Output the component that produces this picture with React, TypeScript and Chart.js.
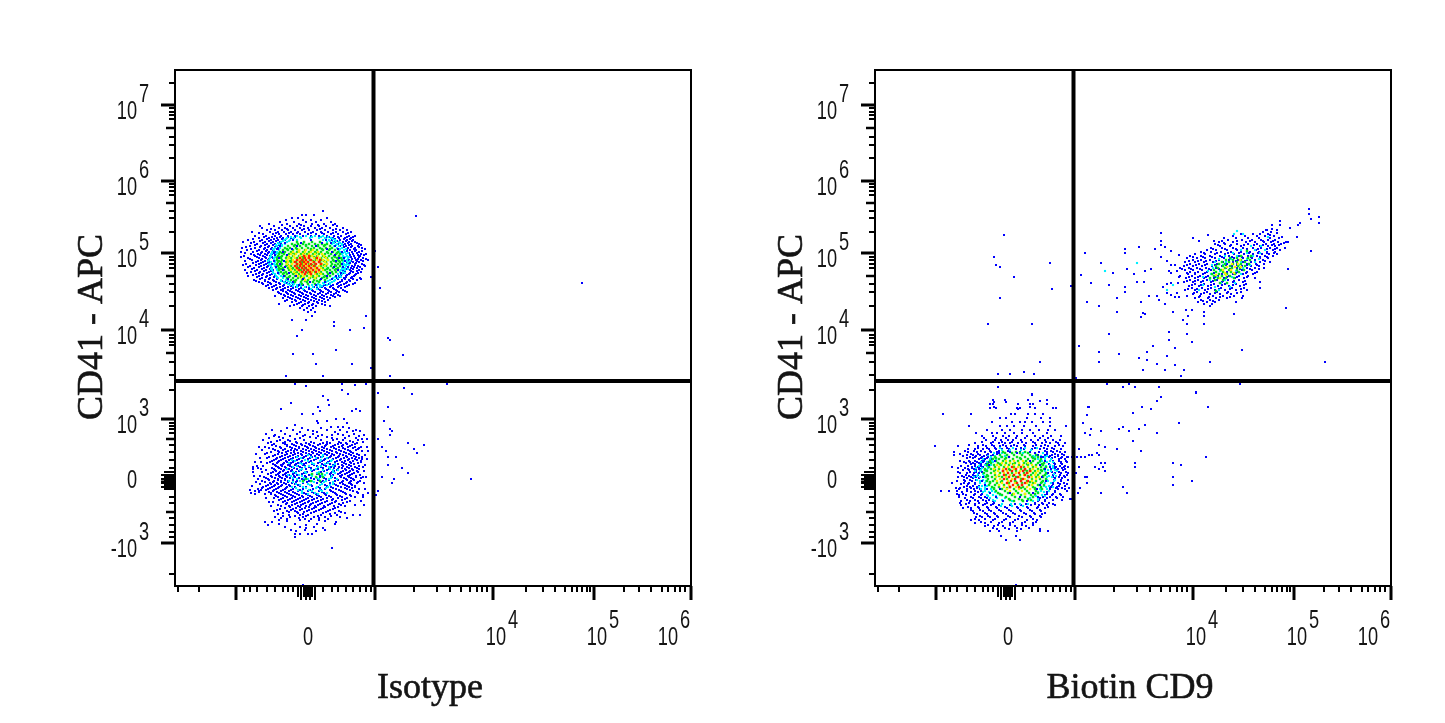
import React, { useEffect, useRef } from "react";
import Chart from "chart.js/auto";

// axis values are display channels of the biexponential scale (0-516 on both axes)
const yDecadeTicks = [481, 405, 333, 256, 167, 104, 43];
const yDecadeBases = ["10", "10", "10", "10", "10", "0", "-10"];
const yDecadeExps = ["7", "6", "5", "4", "3", "", "3"];
const yZeroTicks = [114, 111, 109, 107, 105, 103, 101, 99, 97];
const yMidTicks = [458, 383, 310, 233, 147, 74];
const yMinorTicks = [503, 478, 474, 471, 467, 449, 441, 428, 402, 399, 395, 391, 375, 368, 354, 329, 326, 322, 318, 302, 294, 280, 251, 248, 244, 241, 224, 211, 196, 163, 160, 157, 153, 141, 134, 126, 118, 89, 83, 68, 61, 54, 49, 12];
const xDecadeTicks = [61, 200, 318, 419, 516];
const xZeroTicks = [123, 126, 129, 131, 133, 135, 137, 140];
const xMinorTicks = [3, 24, 69, 75, 82, 92, 100, 108, 113, 118, 148, 157, 163, 171, 178, 185, 191, 196, 239, 262, 275, 286, 295, 302, 307, 312, 351, 368, 380, 390, 397, 402, 407, 412, 415, 449, 464, 476, 487, 493, 500, 505, 510];
const xLabelAt = [138, 331, 432, 503];
const xLabelBases = ["0", "10", "10", "10"];
const xLabelExps = ["", "4", "5", "6"];
const gateX = 198.5;
const gateY = 205;

const levelColors = ["#0000ff", "#00f0ff", "#00e020", "#f8f000", "#ff2000"];
const levelRadius = [1.45, 1.5, 1.7, 1.7, 1.7];

// cloud rows are [y, x, x, x...]
const isoUpperBlue = [
  [375, 148], [371, 127, 131, 139], [368, 117, 123, 152], [366, 111, 128, 136, 146], [364, 105, 119, 131, 141, 156], [362, 94, 112, 124, 137, 149, 160],
  [360, 85, 99, 115, 122, 129, 136, 144, 151, 162], [358, 87, 104, 110, 118, 125, 133, 140, 147, 155, 168], [356, 92, 100, 107, 113, 120, 127, 134, 142, 150, 158, 165, 172],
  [354, 77, 95, 103, 109, 116, 123, 130, 138, 146, 153, 161, 168, 176], [352, 88, 98, 104, 111, 118, 125, 133, 141, 149, 156, 163, 171], [350, 80, 91, 100, 106, 113, 120, 128, 136, 144, 152, 159, 166, 174, 180],
  [348, 84, 94, 102, 108, 116, 151, 158, 164, 170, 176], [346, 73, 87, 96, 103, 110, 157, 165, 172, 178], [344, 68, 79, 90, 98, 105, 160, 168, 174, 180], [342, 82, 92, 100, 106, 163, 170, 176, 184],
  [340, 75, 86, 94, 101, 165, 171, 177, 183], [338, 67, 80, 90, 97, 103, 167, 173, 180, 187], [336, 72, 84, 92, 99, 169, 175, 181], [334, 66, 78, 87, 94, 100, 170, 177, 184],
  [332, 76, 83, 90, 97, 171, 178, 186, 191], [330, 69, 80, 88, 95, 172, 179, 185], [328, 73, 84, 91, 98, 173, 180, 188], [326, 77, 86, 93, 174, 181, 186, 193], [324, 81, 88, 95, 172, 178, 184],
  [322, 71, 84, 91, 97, 173, 180, 187], [320, 75, 86, 93, 171, 177, 183, 190], [318, 79, 89, 96, 170, 176, 182], [316, 70, 82, 91, 98, 168, 175, 184], [314, 76, 85, 94, 169, 178, 186],
  [312, 81, 88, 97, 166, 174, 181], [310, 73, 84, 92, 100, 164, 171, 179], [308, 87, 95, 103, 162, 169, 176, 185], [306, 79, 90, 98, 106, 160, 167, 174, 182], [304, 84, 93, 101, 110, 157, 165, 172],
  [302, 88, 96, 105, 114, 154, 162, 169, 178], [300, 91, 99, 108, 116, 123, 148, 156, 164, 172], [298, 94, 102, 110, 118, 126, 134, 142, 150, 158, 166], [296, 98, 106, 113, 121, 129, 137, 145, 153, 161, 168],
  [294, 103, 111, 117, 125, 132, 140, 148, 156, 164, 172], [292, 106, 113, 120, 128, 136, 143, 151, 159], [290, 100, 110, 118, 126, 133, 141, 149, 158, 165], [288, 108, 115, 123, 131, 139, 147, 155],
  [286, 112, 120, 128, 136, 144, 153], [284, 117, 126, 134, 142, 150], [282, 104, 122, 130, 138, 147], [280, 115, 127, 134, 141, 155], [278, 125, 132, 138], [276, 129, 136], [274, 133, 140], [270, 137], [266, 131],
];
const isoUpperBlueFill = [
  [361, 107, 126, 143, 158], [357, 96, 112, 129, 145, 161], [353, 84, 101, 114, 122, 136, 147, 158, 173], [349, 89, 97, 105, 113, 120, 154, 163, 172, 178], [347, 78, 92, 99, 107, 160, 169, 175], [345, 85, 94, 101, 108, 162, 171, 177],
  [343, 76, 88, 96, 103, 165, 173, 182], [341, 80, 90, 98, 104, 168, 174, 186], [339, 71, 85, 93, 100, 169, 176, 184], [337, 76, 89, 96, 102, 172, 179, 190], [335, 82, 91, 98, 172, 180, 187], [333, 70, 86, 93, 99, 174, 182],
  [331, 79, 85, 92, 175, 183, 189], [329, 66, 82, 90, 97, 176, 184], [327, 75, 87, 94, 177, 183, 191], [325, 70, 83, 90, 176, 182, 188], [323, 78, 86, 93, 175, 181], [321, 68, 81, 89, 96, 174, 180, 189], [319, 73, 84, 92, 173, 179, 185],
  [317, 77, 87, 95, 171, 178, 187], [315, 80, 89, 96, 170, 176, 182], [313, 72, 84, 92, 168, 175, 183], [311, 78, 87, 95, 166, 172, 180], [309, 82, 91, 99, 165, 171, 177], [307, 85, 94, 102, 163, 170, 178, 186], [305, 81, 90, 99, 107, 159, 167, 175],
  [303, 87, 95, 104, 112, 155, 163, 171, 180], [301, 93, 101, 109, 118, 128, 150, 158, 166, 174], [299, 97, 105, 113, 121, 131, 139, 147, 155, 163, 170], [297, 101, 108, 116, 124, 134, 143, 151, 159], [295, 108, 115, 123, 130, 138, 146, 154, 162, 170],
  [293, 104, 112, 119, 127, 135, 145, 153, 161], [291, 109, 116, 124, 131, 139, 147, 156, 163], [289, 113, 121, 129, 137, 145, 152, 160], [287, 117, 125, 133, 141, 149], [285, 110, 121, 130, 139, 147], [283, 124, 133, 143], [281, 119, 128, 137, 150],
];
const isoUpperCyan = [
  [350, 122, 131, 140, 148], [348, 112, 119, 126, 135, 144, 150, 156], [346, 109, 115, 122, 148, 154, 160], [344, 106, 112, 152, 158, 164], [342, 104, 110, 157, 162, 167], [340, 102, 107, 159, 164],
  [338, 100, 105, 162, 167], [336, 99, 104, 164, 169], [334, 97, 102, 165, 170], [332, 96, 101, 167, 171], [330, 96, 100, 168, 172], [328, 95, 99, 168, 173], [326, 94, 99, 169, 172], [324, 96, 100, 168, 173],
  [322, 94, 99, 169, 172], [320, 96, 100, 168, 171], [318, 97, 101, 167, 170], [316, 97, 102, 166, 170], [314, 98, 103, 165, 168], [312, 100, 104, 163, 167], [310, 101, 106, 161, 165], [308, 103, 108, 158, 163],
  [306, 106, 111, 155, 160], [304, 109, 115, 151, 157], [302, 113, 119, 125, 143, 149, 155], [300, 118, 126, 134, 142, 147],
  [349, 116, 125, 137, 146, 153], [347, 111, 118, 151, 158], [345, 108, 114, 155, 161], [343, 103, 110, 159, 165], [341, 101, 107, 161, 167], [337, 98, 104, 165, 171], [333, 97, 103, 168, 173], [329, 95, 101, 170, 174], [325, 93, 100, 171, 175],
  [321, 95, 101, 170, 174], [317, 96, 102, 168, 173], [313, 98, 104, 166, 170], [309, 102, 108, 160, 166], [305, 106, 113, 153, 159], [303, 110, 117, 148, 155], [301, 115, 122, 137, 145, 152], [299, 122, 130, 138, 145], [297, 128, 136, 142],
];
const isoUpperGreen = [
  [344, 122, 129, 137, 145], [342, 117, 123, 128, 134, 140, 147, 152], [340, 113, 119, 125, 131, 137, 143, 149, 155], [338, 110, 115, 121, 127, 133, 139, 145, 151, 157], [336, 108, 113, 118, 124, 130, 136, 142, 148, 154, 160],
  [334, 105, 110, 116, 122, 128, 134, 140, 146, 152, 158, 163], [332, 104, 109, 114, 120, 126, 132, 138, 144, 150, 156, 161, 165], [330, 103, 107, 112, 118, 124, 130, 136, 142, 148, 154, 159, 164],
  [328, 102, 106, 111, 116, 122, 128, 134, 140, 146, 152, 157, 162, 166], [326, 102, 107, 112, 117, 123, 129, 135, 141, 147, 153, 158, 163, 167], [324, 103, 106, 111, 116, 121, 127, 133, 139, 145, 151, 156, 161, 165],
  [322, 102, 107, 112, 117, 122, 128, 134, 140, 146, 152, 157, 163, 166], [320, 103, 106, 111, 116, 122, 128, 134, 140, 146, 151, 156, 161, 165], [318, 104, 108, 113, 118, 124, 130, 136, 142, 148, 153, 158, 163],
  [316, 104, 109, 114, 120, 126, 132, 138, 144, 150, 155, 160, 163], [314, 106, 111, 116, 122, 128, 134, 140, 146, 152, 157, 161], [312, 108, 112, 118, 124, 130, 136, 142, 148, 153, 158], [310, 110, 115, 120, 126, 132, 138, 144, 150, 155],
  [308, 112, 118, 123, 129, 135, 141, 147, 152], [306, 116, 121, 127, 133, 139, 145, 150], [304, 120, 126, 132, 138, 144], [302, 127, 133, 140],
  [341, 120, 131, 143, 150], [337, 112, 122, 136, 147, 155], [333, 107, 118, 129, 141, 153, 162], [329, 105, 114, 127, 139, 150, 160], [325, 104, 115, 126, 138, 149, 159, 164], [321, 105, 113, 125, 137, 149, 160], [317, 106, 117, 129, 141, 152, 161], [313, 109, 120, 133, 145, 155], [309, 114, 126, 138, 149], [305, 119, 130, 142],
];
const isoUpperYellow = [
  [336, 124, 131, 138], [334, 118, 124, 130, 136, 143], [332, 116, 121, 128, 134, 140, 147], [330, 113, 119, 125, 131, 137, 143, 149], [328, 114, 120, 126, 133, 139, 145, 151], [326, 112, 118, 124, 130, 136, 142, 148, 153],
  [324, 113, 119, 125, 131, 138, 144, 150], [322, 112, 117, 123, 129, 135, 141, 147, 152], [320, 114, 120, 126, 132, 138, 144, 150], [318, 115, 121, 127, 134, 140, 146], [316, 116, 122, 129, 135, 141, 148], [314, 119, 125, 131, 137, 144],
  [312, 121, 127, 134, 140, 146], [310, 123, 129, 136, 142], [308, 127, 134, 140], [306, 130],
];
const isoUpperRed = [
  [330, 129, 134], [328, 125, 130, 134, 142], [326, 122, 127, 131, 136, 145], [324, 120, 125, 129, 133, 139, 144], [322, 122, 126, 131, 136, 141, 146], [320, 120, 125, 129, 134, 139],
  [318, 122, 127, 131, 136, 142], [316, 124, 129, 133, 138, 144], [314, 127, 131, 135, 141], [312, 130, 136],
];
const isoUpperSpeckle = [
  [346, 118, 136, 151], [343, 110, 126, 147, 156], [340, 105, 122, 141, 160], [337, 103, 117, 152, 163], [334, 108, 157, 167], [331, 100, 112, 160], [328, 104, 164, 169], [325, 99, 109, 161, 170], [322, 105, 167], [319, 101, 110, 159, 168],
  [316, 108, 163], [313, 103, 114, 155, 166], [310, 109, 121, 152, 161], [307, 113, 128, 146, 157], [304, 118, 135, 150], [301, 124, 141],
];
const isoLowerBlue = [
  [167, 161, 169], [165, 142, 152], [163, 143, 172], [159, 156, 163, 168], [155, 106, 138, 178, 185], [151, 100, 130, 147, 157, 168, 189], [149, 104, 135, 152], [147, 120, 162, 187, 192], [145, 102, 115, 175],
  [143, 93, 108, 122, 131, 139, 148, 155, 166, 171, 182], [141, 97, 112, 119, 127, 135, 143, 151, 160, 168, 177], [139, 105, 115, 124, 132, 140, 147, 156, 164, 173, 180, 186], [137, 98, 110, 120, 128, 136, 144, 152, 161, 170, 183],
  [135, 103, 113, 119, 126, 134, 141, 149, 157, 166, 175, 187], [133, 92, 107, 116, 123, 131, 138, 146, 154, 162, 171, 178], [131, 100, 110, 118, 127, 136, 144, 152, 159, 168, 176, 184], [129, 94, 105, 113, 121, 129, 137, 146, 155, 163, 172, 181, 187],
  [127, 101, 108, 116, 124, 133, 141, 150, 158, 166, 174, 180], [125, 97, 104, 111, 119, 127, 136, 147, 155, 162, 170, 178, 186], [123, 92, 102, 109, 116, 123, 131, 143, 152, 160, 169, 176, 183], [121, 100, 106, 113, 120, 128, 139, 149, 158, 167, 174],
  [119, 78, 103, 110, 117, 125, 134, 146, 156, 164, 172, 180, 188], [117, 78, 86, 99, 106, 114, 122, 131, 143, 154, 163, 170, 177, 184], [115, 101, 108, 116, 124, 137, 149, 159, 168, 175, 182], [113, 96, 104, 111, 119, 129, 144, 156, 165, 172, 179],
  [111, 101, 108, 114, 122, 134, 147, 158, 167, 175, 185], [109, 89, 97, 105, 112, 120, 131, 145, 157, 166, 174, 181, 188], [107, 83, 93, 103, 110, 118, 127, 139, 151, 162, 171, 178], [105, 87, 99, 106, 113, 122, 134, 148, 160, 168, 176, 185],
  [103, 95, 102, 109, 117, 128, 142, 155, 165, 174, 182], [101, 93, 100, 107, 114, 123, 136, 150, 161, 170, 177], [99, 88, 97, 104, 112, 120, 131, 143, 156, 166, 174, 180], [97, 83, 93, 101, 110, 118, 128, 138, 150, 161, 172, 184],
  [95, 80, 84, 98, 106, 114, 123, 133, 144, 156, 166, 178], [93, 76, 96, 104, 112, 120, 129, 139, 149, 160, 170], [91, 100, 108, 116, 124, 133, 142, 151, 162, 175, 188], [89, 103, 112, 120, 128, 137, 146, 156, 167, 180], [87, 106, 115, 123, 131, 139, 148, 158, 170],
  [85, 110, 119, 127, 134, 143, 152, 161], [83, 112, 122, 130, 138, 147, 157, 168], [81, 103, 117, 126, 135, 143, 153, 166, 180, 189], [79, 115, 125, 134, 141, 150, 163], [77, 105, 118, 127, 137, 146, 158], [75, 99, 112, 120, 132, 141, 153, 164],
  [73, 108, 123, 136, 148, 160, 170], [71, 114, 125, 133, 146, 162, 178, 185], [69, 100, 115, 128, 139, 150, 165], [67, 112, 130, 136, 153], [64, 90, 97, 161], [61, 93, 131], [58, 131, 148], [55, 121, 141], [52, 120, 125, 137, 133], [49, 120],
];
const isoLowerBlueFill = [
  [142, 99, 110, 117, 126, 134, 145, 152, 163, 172, 180], [140, 101, 112, 121, 130, 138, 150, 158, 167, 175], [138, 94, 106, 117, 124, 133, 141, 149, 159, 168, 178, 184], [136, 100, 108, 116, 122, 131, 139, 147, 155, 164, 173, 181],
  [134, 96, 104, 111, 119, 128, 137, 144, 152, 161, 169, 176], [132, 90, 103, 112, 120, 126, 134, 142, 150, 157, 165, 174, 182], [130, 98, 107, 115, 123, 131, 140, 148, 156, 164, 171, 179], [128, 92, 102, 110, 118, 128, 135, 143, 153, 161, 169, 177, 184],
  [126, 99, 106, 114, 122, 130, 139, 149, 157, 165, 173, 182], [124, 95, 103, 112, 118, 126, 134, 145, 153, 160, 167, 175, 186], [122, 98, 108, 115, 121, 129, 137, 147, 155, 163, 171, 179], [120, 88, 101, 107, 115, 123, 130, 142, 151, 160, 168, 176, 184],
  [118, 83, 97, 104, 111, 119, 127, 136, 148, 159, 167, 174, 182], [116, 91, 100, 109, 117, 126, 139, 152, 162, 171, 178], [114, 87, 98, 105, 113, 121, 132, 146, 157, 166, 174, 183], [112, 93, 103, 110, 118, 127, 142, 155, 163, 170, 177],
  [110, 85, 96, 104, 111, 119, 130, 145, 156, 165, 173, 181], [108, 91, 100, 107, 115, 124, 136, 149, 160, 169, 176, 186], [106, 94, 103, 110, 118, 129, 143, 154, 163, 172, 179], [104, 90, 98, 106, 113, 121, 132, 146, 158, 167, 175, 183],
  [102, 85, 96, 103, 111, 120, 133, 147, 159, 168, 176], [100, 91, 99, 106, 115, 125, 137, 152, 163, 172, 180], [98, 87, 95, 103, 111, 121, 131, 145, 158, 170, 177], [96, 91, 99, 108, 116, 125, 135, 146, 155, 164, 175],
  [94, 84, 94, 102, 110, 118, 127, 137, 147, 158, 168, 182], [92, 96, 106, 114, 122, 131, 141, 150, 161, 171], [90, 101, 110, 118, 127, 135, 144, 154, 165, 176], [88, 99, 108, 117, 125, 133, 142, 152, 163, 172], [86, 104, 113, 121, 129, 137, 146, 157, 167],
  [84, 108, 117, 125, 133, 141, 150, 160, 172], [82, 111, 120, 128, 136, 145, 155, 164], [80, 106, 114, 123, 131, 140, 149, 159, 170], [78, 110, 121, 130, 139, 148, 160], [76, 102, 116, 125, 134, 144, 155], [74, 114, 122, 129, 139, 151, 166], [70, 108, 120, 131, 143, 156], [66, 104, 125, 144],
];
const isoLowerBlueEdge = [
  [158, 112, 127, 146, 174], [156, 97, 118, 133, 152, 165, 181], [154, 125, 142, 160, 172], [152, 91, 110, 122, 138, 163, 179], [150, 99, 115, 128, 143, 174, 184], [148, 94, 108, 125, 141, 157, 170, 181], [146, 88, 105, 113, 129, 146, 158, 168, 183], [144, 96, 110, 121, 136, 152, 164, 178, 188],
  [139, 84, 90, 192], [136, 87], [135, 193], [132, 81], [131, 190], [128, 85], [127, 187, 192], [124, 80, 86], [121, 190], [120, 82], [115, 189], [114, 78], [110, 79], [109, 191], [104, 81], [103, 189], [100, 77], [97, 190], [96, 75, 86], [93, 183, 193], [92, 80, 90], [89, 188], [88, 91], [85, 175, 186], [84, 94, 98], [80, 96],
  [72, 103, 128, 155], [68, 106, 124, 144, 172], [65, 112, 134, 150], [62, 104, 120, 142, 160], [59, 110, 125, 139], [56, 116, 130, 150],
];
const isoLowerCyan = [
  [131, 133, 148], [128, 126, 141, 152], [125, 120, 133, 145, 156], [122, 127, 139, 150, 160], [119, 118, 130, 143, 154], [116, 125, 136, 148, 158, 163], [113, 121, 131, 142, 152, 160], [110, 116, 127, 137, 147, 157],
  [107, 122, 133, 144, 154, 162], [104, 118, 128, 139, 149, 158], [101, 125, 135, 145, 155], [98, 121, 131, 141, 151], [95, 127, 137, 147], [92, 133, 143],
  [129, 122, 136, 147], [126, 117, 130, 146, 157], [123, 114, 125, 137, 153], [120, 122, 134, 146, 158], [117, 112, 127, 141, 155], [114, 118, 130, 144, 158], [111, 113, 124, 136, 150], [108, 118, 129, 142, 156], [105, 114, 125, 137, 151], [102, 121, 133, 147, 158], [99, 117, 128, 142, 153], [96, 123, 134, 145], [93, 127, 140, 152],
];
const isoLowerGreen = [[112, 137, 144, 147], [109, 141, 148], [107, 131], [105, 128, 136, 145]];
const isoStrays = [
  241, 370, 407, 303, 228, 231, 200, 335, 203, 319, 196, 309, 205, 298, 191, 270, 189, 258, 213, 248, 215, 246, 175, 256, 159, 264, 159, 260, 127, 256, 122, 250, 117, 266, 118, 232, 138, 232, 161, 236, 141, 222, 177, 222, 196, 218, 111, 210, 148, 210, 215, 210,
  120, 202, 131, 200, 167, 202, 180, 201, 191, 202, 272, 202, 167, 196, 173, 192, 203, 193, 229, 198, 237, 192, 148, 190, 153, 186, 154, 181, 116, 183, 106, 177, 143, 179, 145, 175, 213, 179, 181, 177, 177, 175, 185, 175, 127, 172, 138, 172,
  209, 165, 120, 161, 215, 157, 217, 155, 215, 151, 203, 147, 233, 143, 249, 141, 239, 137, 242, 133, 207, 139, 211, 135, 213, 129, 221, 129, 213, 121, 227, 118, 233, 113, 207, 109, 219, 107, 217, 103, 203, 95, 201, 91, 296, 107, 157, 38, 128, 1,
];

const cd9LowerBlue = [
  [191, 157], [186, 118, 130, 153, 172], [182, 118, 115, 143, 155, 158, 172], [178, 121, 115, 142, 145, 160, 178, 181], [172, 68, 96, 136, 140, 153, 160, 168], [168, 125, 131, 152, 166, 175], [164, 117, 137, 145, 150, 157, 168, 175],
  [160, 94, 125, 132, 139, 149, 161, 175, 191], [156, 112, 127, 135, 147, 155, 164, 173, 180], [153, 101, 117, 122, 130, 139, 147, 158, 172], [150, 107, 118, 128, 134, 142, 152, 160, 168, 176, 186],
  [146, 111, 120, 126, 133, 138, 146, 156, 163, 170, 178, 185], [143, 100, 116, 124, 130, 135, 143, 151, 160, 167, 175, 183, 190], [140, 60, 83, 103, 111, 119, 125, 131, 136, 142, 150, 158, 166, 173, 180, 188],
  [137, 93, 100, 108, 114, 121, 127, 134, 141, 149, 157, 165, 172, 179, 186], [134, 79, 93, 102, 110, 116, 122, 128, 135, 145, 155, 164, 172, 178, 185, 190], [131, 79, 92, 98, 105, 112, 118, 125, 163, 170, 177, 183, 189], [129, 95, 100, 107, 113, 120, 168, 174, 180, 187, 192],
  [127, 104, 110, 116, 170, 176, 184, 190], [124, 89, 95, 102, 108, 114, 172, 178, 186, 192], [122, 96, 100, 106, 111, 174, 180, 187], [119, 77, 97, 103, 108, 175, 181, 189, 193], [117, 93, 99, 105, 176, 183, 190], [114, 83, 95, 101, 107, 177, 184, 191],
  [111, 91, 98, 103, 178, 185, 192], [109, 83, 89, 96, 101, 178, 184, 190], [106, 89, 95, 101, 179, 186, 193], [103, 77, 89, 94, 100, 178, 183, 189], [100, 92, 98, 104, 177, 184, 190], [98, 81, 85, 96, 102, 175, 181, 187, 194], [95, 66, 74, 82, 92, 100, 106, 174, 180, 192],
  [92, 82, 88, 100, 107, 172, 178, 185], [89, 84, 96, 104, 110, 168, 175, 181, 188], [86, 92, 100, 108, 114, 164, 170, 178, 187], [83, 85, 94, 104, 112, 119, 160, 167, 174], [81, 86, 100, 108, 116, 124, 135, 146, 156, 164, 172, 180], [78, 88, 96, 104, 113, 122, 132, 143, 153, 162, 170],
  [75, 98, 108, 116, 126, 136, 146, 157, 166], [72, 102, 112, 120, 131, 140, 151, 160, 167], [69, 101, 107, 115, 123, 135, 147, 156, 166], [66, 96, 104, 118, 129, 140, 152, 162], [63, 100, 110, 124, 135, 147, 158], [60, 110, 119, 128, 140, 151], [57, 122, 134, 146, 165], [55, 115, 124, 142, 165, 173], [50, 126, 141], [46, 131, 145], [1, 141],
];
const cd9LowerBlueFill = [
  [148, 109, 121, 131, 141, 150, 165, 173], [144, 107, 118, 127, 137, 147, 158, 171, 181], [141, 94, 108, 117, 128, 139, 149, 161, 170, 184], [138, 103, 112, 120, 132, 146, 160, 169, 177], [135, 90, 99, 106, 115, 124, 133, 170, 176, 182],
  [132, 85, 96, 103, 113, 122, 172, 180, 187], [130, 88, 101, 109, 116, 175, 183], [128, 92, 98, 106, 112, 177, 186], [125, 85, 94, 100, 107, 178, 184, 191], [123, 91, 98, 104, 179, 186], [120, 86, 93, 100, 106, 179, 185, 190], [118, 83, 90, 97, 104, 180, 187],
  [116, 88, 94, 101, 181, 188], [113, 85, 92, 99, 180, 186, 193], [110, 87, 94, 100, 181, 189], [108, 92, 98, 104, 180, 187], [105, 82, 90, 97, 179, 186], [102, 86, 93, 100, 178, 185, 192], [99, 89, 95, 102, 176, 182], [97, 84, 92, 99, 105, 175, 183, 190],
  [94, 87, 96, 103, 172, 180], [91, 84, 91, 99, 106, 170, 177, 186], [88, 90, 98, 106, 112, 165, 172, 182], [85, 86, 95, 103, 111, 118, 163, 170], [82, 91, 100, 110, 118, 127, 140, 151, 160, 168, 178], [79, 93, 103, 112, 121, 130, 142, 152, 163, 173], [76, 96, 105, 114, 124, 134, 145, 155, 165],
  [73, 99, 110, 119, 128, 138, 149, 159, 170], [70, 105, 113, 122, 133, 144, 155, 165], [67, 100, 110, 120, 131, 143, 158], [64, 106, 116, 127, 138, 150, 161], [61, 113, 123, 135, 147, 158], [58, 118, 130, 142, 154],
];
const cd9LowerCyan = [
  [136, 127, 135, 146, 156], [133, 119, 127, 137, 148, 160, 168], [130, 113, 120, 130, 158, 166, 172], [127, 108, 115, 121, 163, 170, 176], [124, 106, 112, 118, 165, 172, 178], [121, 105, 110, 116, 168, 175], [118, 101, 107, 113, 170, 178],
  [115, 100, 105, 111, 170, 176, 182], [112, 103, 108, 172, 179], [109, 99, 105, 110, 172, 177], [106, 102, 108, 172, 180], [103, 105, 110, 170, 176], [100, 107, 112, 169, 174], [97, 106, 110, 116, 165, 172], [94, 108, 114, 120, 163, 169],
  [91, 112, 118, 125, 160, 167], [88, 115, 122, 130, 155, 163], [85, 120, 128, 137, 148, 158], [82, 127, 136, 145, 153],
  [138, 125, 138, 150, 162], [129, 116, 126, 160, 170], [125, 109, 117, 167, 175], [120, 104, 112, 171, 178], [116, 106, 112, 173, 180], [110, 102, 109, 174, 181], [105, 105, 111, 173, 179], [99, 104, 110, 171, 178], [95, 110, 117, 166, 174], [90, 113, 121, 161, 170], [86, 118, 127, 153, 163], [80, 126, 137, 148],
];
const cd9LowerGreen = [
  [133, 130, 137, 145, 153], [131, 125, 132, 139, 147, 155, 161], [129, 120, 127, 134, 142, 150, 157, 163], [127, 118, 124, 130, 138, 146, 153, 160, 166], [125, 115, 121, 128, 135, 143, 151, 158, 165], [123, 116, 123, 131, 140, 149, 156, 163, 169],
  [121, 112, 119, 126, 134, 144, 153, 161, 168], [119, 114, 120, 129, 139, 149, 158, 166, 171], [117, 110, 116, 124, 134, 146, 155, 163, 169], [115, 112, 119, 128, 141, 152, 160, 167], [113, 109, 116, 125, 137, 149, 158, 165, 171], [111, 112, 120, 131, 145, 156, 163, 170],
  [109, 111, 117, 127, 141, 153, 161, 168], [107, 113, 120, 132, 146, 157, 165, 171], [105, 112, 118, 127, 140, 152, 161, 168], [103, 115, 122, 134, 147, 158, 166], [101, 114, 120, 129, 143, 154, 163, 169], [99, 117, 124, 135, 148, 158, 166], [97, 119, 127, 139, 150, 160, 167],
  [95, 121, 130, 141, 152, 161], [93, 123, 133, 143, 154, 163], [91, 127, 137, 146, 156], [89, 131, 140, 150, 158], [87, 134, 144, 153], [85, 139, 148],
  [134, 128, 141, 150], [128, 121, 131, 145, 158], [122, 113, 125, 138, 152, 167], [116, 110, 120, 135, 150, 166], [110, 113, 124, 138, 153, 168], [104, 115, 126, 141, 155, 167], [98, 119, 132, 146, 160], [92, 125, 138, 150, 160], [86, 135, 147, 156],
];
const cd9LowerYellow = [
  [125, 131, 139, 148], [123, 127, 135, 144, 153], [121, 122, 130, 139, 148, 157], [119, 124, 133, 143, 153, 161], [117, 119, 128, 139, 150, 158], [115, 123, 132, 145, 156, 163], [113, 120, 129, 141, 153, 161], [111, 124, 135, 149, 160],
  [109, 121, 131, 145, 157, 164], [107, 125, 137, 150, 161], [105, 122, 133, 146, 157], [103, 127, 140, 152, 160], [101, 124, 134, 147, 157], [99, 129, 141, 152], [97, 132, 144, 155], [95, 135, 147], [92, 139, 150],
];
const cd9LowerRed = [
  [119, 137, 146], [117, 131, 141, 150], [115, 128, 137, 148, 155], [113, 133, 144, 152], [111, 129, 139, 150], [109, 134, 143, 154], [107, 129, 140, 148], [105, 136, 146, 153], [103, 132, 142, 150], [101, 138, 147], [99, 135, 144],
];
const cd9LowerSpeckle = [
  [133, 124, 142, 160], [129, 113, 134, 166], [125, 109, 120, 155, 170], [121, 106, 114, 165], [117, 104, 170], [113, 104, 173], [109, 108, 167], [105, 107, 171], [101, 110, 165], [97, 112, 125, 162], [93, 115, 135, 158], [89, 121, 145, 163], [85, 128, 152],
];
const cd9UpperBlue = [
  [356, 392, 402], [354, 388, 396], [352, 366, 378, 385, 393], [350, 358, 370, 382, 390, 399], [348, 349, 361, 373, 384, 395, 404], [346, 353, 367, 377, 386, 393, 400], [344, 344, 358, 371, 380, 389, 396, 403, 411],
  [342, 340, 350, 362, 373, 382, 391, 399, 406], [340, 345, 355, 366, 376, 385, 393, 400], [338, 336, 347, 358, 368, 378, 386, 395, 402, 410], [336, 332, 341, 352, 362, 372, 381, 390, 398, 405], [334, 326, 336, 346, 356, 366, 375, 384, 392, 400],
  [332, 320, 330, 340, 350, 359, 369, 378, 387, 394, 402], [330, 315, 326, 335, 345, 354, 364, 373, 382, 390, 398], [328, 312, 322, 330, 340, 349, 359, 368, 377, 385, 393], [326, 318, 326, 335, 344, 354, 363, 372, 380, 388], [324, 310, 320, 329, 338, 348, 358, 368, 376, 385, 395],
  [322, 315, 324, 332, 342, 352, 362, 372, 381, 389], [320, 309, 318, 327, 337, 347, 357, 367, 376, 384], [318, 305, 314, 322, 331, 341, 351, 362, 372, 380, 389], [316, 310, 318, 327, 336, 346, 356, 367, 377], [314, 315, 323, 332, 341, 352, 363, 372, 382],
  [312, 313, 320, 328, 337, 347, 358, 368, 378], [310, 305, 317, 325, 333, 343, 354, 364, 373], [308, 311, 320, 329, 339, 349, 360, 369, 380], [306, 315, 323, 332, 342, 353, 364], [304, 309, 318, 326, 336, 347, 358, 368, 385], [302, 320, 329, 339, 350, 361, 371], [300, 314, 324, 333, 343, 354, 365],
  [298, 317, 327, 336, 346, 357, 369, 385], [296, 310, 320, 330, 340, 350, 361, 372], [294, 322, 332, 342, 353, 366], [292, 318, 326, 335, 345, 356], [290, 325, 338, 348, 359, 368], [288, 320, 333, 341, 352, 367], [286, 326, 335, 344], [284, 323, 332, 340, 361], [282, 329, 337], [280, 335],
];
const cd9UpperBlueFill = [
  [345, 347, 362, 375, 388, 398], [341, 343, 356, 369, 379, 388, 397, 404], [337, 338, 350, 361, 372, 383, 392, 400], [333, 329, 342, 353, 364, 374, 383, 392, 399], [329, 318, 328, 337, 347, 357, 367, 376, 385, 392], [325, 314, 323, 331, 341, 351, 361, 370, 380, 390],
  [321, 312, 321, 330, 340, 351, 362, 372, 382], [317, 307, 316, 325, 334, 344, 355, 365, 375, 384], [313, 312, 320, 330, 339, 350, 361, 371, 380], [309, 314, 323, 331, 341, 352, 362, 372], [305, 312, 320, 328, 338, 348, 359, 370], [301, 317, 326, 336, 347, 358, 369],
  [297, 313, 322, 333, 344, 355, 366], [293, 319, 329, 340, 352, 362], [289, 324, 334, 345, 355], [285, 328, 338],
];
const cd9UpperCyan = [
  [355, 362], [352, 359, 368], [349, 393], [340, 376, 386], [336, 366, 380, 390], [333, 358, 372, 385], [330, 350, 362, 378], [327, 344, 356, 372, 384], [324, 340, 351, 366, 380], [321, 337, 348, 364, 375], [318, 338, 350, 368], [315, 333, 345, 361],
  [312, 336, 350, 366], [309, 328, 342, 357], [306, 335, 350], [303, 346, 360], [301, 298, 328], [299, 340, 355], [296, 292, 324, 344], [315, 230], [323, 262],
];
const cd9UpperGreen = [
  [335, 372], [330, 366, 376], [328, 355, 362, 373], [326, 351, 358, 366, 375], [324, 347, 354, 362, 370], [322, 344, 350, 358, 366, 374], [320, 341, 348, 355, 363, 370], [318, 343, 350, 357, 365], [316, 339, 346, 354, 362, 369], [314, 341, 348, 356, 364],
  [312, 337, 344, 352, 360], [310, 339, 347, 355], [308, 335, 343, 351, 359], [306, 340, 348], [303, 345, 352], [295, 341],
];
const cd9UpperYellow = [[326, 365], [322, 357, 363], [319, 352, 360, 366], [316, 348, 356], [313, 350, 359], [311, 341, 351], [308, 345]];
const cd9Strays = [
  129, 351, 119, 329, 121, 321, 125, 319, 139, 309, 175, 323, 177, 297, 125, 288, 113, 262, 157, 262, 196, 300, 165, 224, 123, 212, 135, 212, 149, 214, 159, 212, 123, 199, 157, 192, 119, 184, 131, 184, 165, 185, 155, 179, 143, 177, 119, 179,
  210, 333, 206, 311, 226, 323, 238, 313, 216, 303, 234, 301, 250, 337, 250, 333, 264, 339, 252, 317, 259, 312, 270, 315, 276, 317, 262, 304, 269, 304, 250, 299, 250, 294, 242, 288, 212, 284, 224, 280, 242, 274, 266, 284, 274, 290, 268, 273, 266, 269, 270, 272,
  234, 252, 204, 240, 224, 234, 244, 232, 224, 224, 264, 228, 272, 234, 272, 226, 278, 240, 282, 222, 268, 216, 290, 216, 294, 254, 294, 246, 300, 238, 292, 230, 300, 221, 309, 216, 306, 210, 317, 244, 312, 252, 312, 262, 329, 262, 308, 266, 298, 274, 313, 270, 311, 276, 317, 276, 329, 274, 329, 270,
  335, 224, 367, 236, 359, 272, 411, 278, 450, 224, 436, 335, 413, 317, 232, 202, 254, 202, 248, 199, 260, 199, 284, 199, 365, 202, 201, 208, 321, 194, 286, 189, 282, 185, 214, 179, 267, 179, 276, 177, 333, 179,
  286, 353, 286, 345, 286, 341, 290, 339, 280, 337, 296, 335, 304, 331, 286, 329, 292, 325, 296, 321, 300, 321, 294, 315, 302, 315, 296, 313, 304, 309, 288, 299, 292, 302, 296, 303, 290, 282, 284, 286, 282, 290, 292, 293, 296, 291, 300, 289, 304, 289, 312, 290, 302, 293, 303, 303, 318, 348, 324, 345, 333, 351, 339, 345, 349, 343,
  434, 377, 434, 372, 436, 367, 444, 369, 444, 363, 425, 363, 423, 361, 405, 365, 405, 361, 415, 358, 397, 361, 397, 357, 391, 356, 422, 349, 413, 344, 409, 343, 407, 349, 402, 353, 395, 351,
  213, 179, 212, 171, 208, 163, 216, 157, 210, 153, 215, 151, 226, 155, 244, 157, 248, 159, 254, 155, 264, 157, 270, 161, 282, 153, 258, 173, 267, 179, 276, 177, 282, 185, 286, 189, 321, 193, 333, 179, 304, 163, 258, 145, 266, 135, 242, 137, 224, 141, 230, 139, 222, 133, 224, 131,
  204, 137, 202, 129, 206, 129, 210, 129, 214, 131, 217, 131, 226, 123, 230, 123, 220, 119, 224, 117, 228, 119, 230, 115, 204, 119, 201, 113, 210, 109, 212, 109, 212, 103, 205, 98, 203, 93, 226, 93, 248, 99, 252, 93, 260, 123, 260, 119, 298, 123, 306, 121, 298, 109, 298, 101, 317, 105, 331, 129, 197, 87, 195, 87, 197, 129, 193, 129,
];

const toPoints = (rows: number[][]) => rows.flatMap(([y, ...xs]) => xs.map((x) => ({ x, y })));
const pairsToPoints = (pairs: number[]) => {
  const out: { x: number; y: number }[] = [];
  for (let i = 0; i < pairs.length; i += 2) out.push({ x: pairs[i], y: pairs[i + 1] });
  return out;
};

const sciFont = '26px "Liberation Sans", sans-serif';
const sciSqueeze = 0.7;
const titleFont = '36px "Liberation Serif", serif';
const inkColor = "#141414";

// frame, biexponential ticks and superscript labels, placed through the chart scales
const axisPlugin = (xTitle: string) => ({
  id: "biexAxes",
  afterDatasetsDraw(chart: any) {
    const { ctx, chartArea, scales } = chart;
    const { x, y } = scales;
    ctx.save();
    ctx.strokeStyle = "#000";
    ctx.lineWidth = 2;
    ctx.strokeRect(chartArea.left, chartArea.top, chartArea.width, chartArea.height);

    const yTick = (v: number, len: number, w: number) => {
      const p = y.getPixelForValue(v);
      ctx.lineWidth = w;
      ctx.beginPath();
      ctx.moveTo(chartArea.left, p);
      ctx.lineTo(chartArea.left - len, p);
      ctx.stroke();
    };
    const xTick = (v: number, len: number, w: number) => {
      const p = x.getPixelForValue(v);
      ctx.lineWidth = w;
      ctx.beginPath();
      ctx.moveTo(p, chartArea.bottom);
      ctx.lineTo(p, chartArea.bottom + len);
      ctx.stroke();
    };
    yMinorTicks.forEach((v) => yTick(v, 6, 2));
    yMidTicks.forEach((v) => yTick(v, 9, 2.5));
    yDecadeTicks.forEach((v) => yTick(v, 14, 3));
    yZeroTicks.forEach((v, i) => yTick(v, i % 2 ? 14 : 11, 2));
    xMinorTicks.forEach((v) => xTick(v, 6, 2));
    xDecadeTicks.forEach((v) => xTick(v, 14, 3));
    xZeroTicks.forEach((v, i) => xTick(v, i % 2 ? 14 : 11, 2));

    ctx.fillStyle = inkColor;
    ctx.font = sciFont;
    ctx.textBaseline = "alphabetic";
    const squeezed = (text: string, px: number, py: number, align: CanvasTextAlign) => {
      ctx.save();
      ctx.translate(px, py);
      ctx.scale(sciSqueeze, 1);
      ctx.textAlign = align;
      ctx.fillText(text, 0, 0);
      ctx.restore();
    };
    yDecadeTicks.forEach((v, i) => {
      const p = y.getPixelForValue(v);
      const base = yDecadeBases[i];
      squeezed(base, chartArea.left - 38, p + (base === "0" ? 6 : 14), "right");
      if (yDecadeExps[i]) squeezed(yDecadeExps[i], chartArea.left - 36, p - 3, "left");
    });
    xLabelAt.forEach((v, i) => {
      const p = x.getPixelForValue(v);
      squeezed(xLabelBases[i], p, chartArea.bottom + 59, "right");
      if (xLabelExps[i]) squeezed(xLabelExps[i], p + 2, chartArea.bottom + 42, "left");
    });

    ctx.font = titleFont;
    ctx.textAlign = "center";
    ctx.strokeStyle = inkColor;
    ctx.lineWidth = 0.6;
    ctx.fillText(xTitle, 430, chartArea.bottom + 112);
    ctx.strokeText(xTitle, 430, chartArea.bottom + 112);
    ctx.translate(102, 327);
    ctx.rotate(-Math.PI / 2);
    ctx.fillText("CD41 - APC", 0, 0);
    ctx.strokeText("CD41 - APC", 0, 0);
    ctx.restore();
  },
});

interface DotPlotProps {
  levels: number[][][];
  speckle: number[][];
  strays: number[];
  xTitle: string;
  left: number;
}

function DotPlot({ levels, speckle, strays, xTitle, left }: DotPlotProps) {
  const canvasRef = useRef<HTMLCanvasElement | null>(null);

  useEffect(() => {
    if (!canvasRef.current) return;
    const dots = levels.map((rows, i) => ({
      data: i === 0 ? [...toPoints(rows), ...pairsToPoints(strays)] : toPoints(rows),
      backgroundColor: levelColors[i],
      pointRadius: levelRadius[i],
      pointStyle: "rect",
      pointBorderWidth: 0,
      order: levels.length - i + 2,
    }));
    // low-density events showing through the edge of the dense core
    const flecks = {
      data: toPoints(speckle),
      backgroundColor: levelColors[0],
      pointRadius: levelRadius[0],
      pointStyle: "rect",
      pointBorderWidth: 0,
      order: 1,
    };
    const gates = [
      [{ x: gateX, y: 0 }, { x: gateX, y: 516 }],
      [{ x: 0, y: gateY }, { x: 516, y: gateY }],
    ].map((data) => ({ data, showLine: true, borderColor: "#000", borderWidth: 4, pointRadius: 0, order: 0 }));

    const chart = new Chart(canvasRef.current, {
      type: "scatter",
      data: { datasets: [...dots, flecks, ...gates] as any },
      options: {
        responsive: false,
        animation: false,
        devicePixelRatio: 1,
        layout: { padding: { left: 175, top: 70, right: 9, bottom: 137 } },
        plugins: { legend: { display: false }, tooltip: { enabled: false } },
        scales: {
          x: { type: "linear", min: 0, max: 516, display: false },
          y: { type: "linear", min: 0, max: 516, display: false },
        },
      },
      plugins: [axisPlugin(xTitle)],
    });
    return () => chart.destroy();
  }, []);

  return <canvas ref={canvasRef} width={700} height={723} style={{ position: "absolute", left, top: 0, display: "block" }} />;
}

const isoLevels = [
  [...isoUpperBlue, ...isoUpperBlueFill, ...isoLowerBlue, ...isoLowerBlueFill, ...isoLowerBlueEdge],
  [...isoUpperCyan, ...isoLowerCyan],
  [...isoUpperGreen, ...isoLowerGreen],
  isoUpperYellow,
  isoUpperRed,
];
const cd9Levels = [
  [...cd9LowerBlue, ...cd9LowerBlueFill, ...cd9UpperBlue, ...cd9UpperBlueFill],
  [...cd9LowerCyan, ...cd9UpperCyan],
  [...cd9LowerGreen, ...cd9UpperGreen],
  [...cd9LowerYellow, ...cd9UpperYellow],
  cd9LowerRed,
];

export default function App() {
  return (
    <div style={{ position: "absolute", left: 0, top: 0, width: 1445, height: 723, background: "#fff", overflow: "hidden" }}>
      <DotPlot levels={isoLevels} speckle={isoUpperSpeckle} strays={isoStrays} xTitle="Isotype" left={0} />
      <DotPlot levels={cd9Levels} speckle={cd9LowerSpeckle} strays={cd9Strays} xTitle="Biotin CD9" left={700} />
    </div>
  );
}
